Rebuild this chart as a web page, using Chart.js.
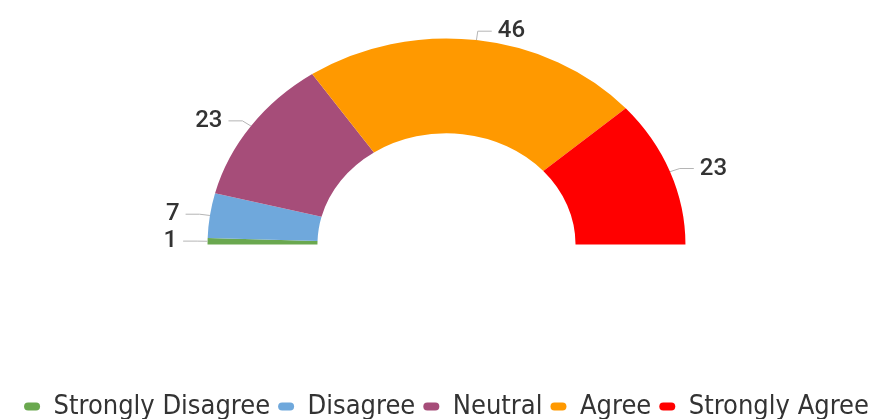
<!DOCTYPE html>
<html>
<head>
<meta charset="utf-8">
<script src="https://cdn.jsdelivr.net/npm/chart.js@4"></script>
<style>
  html, body { margin: 0; padding: 0; background: #fff; overflow: hidden; }
  #wrap { width: 884px; height: 430px; }
</style>
</head>
<body>
<div id="wrap"><canvas id="surveyChart"></canvas></div>
<script>
const answers = ['Strongly Disagree', 'Disagree', 'Neutral', 'Agree', 'Strongly Agree'];
const responses = [1, 7, 23, 46, 23];
const sliceColors = ['#6aa84f', '#6fa8dc', '#a64d79', '#ff9900', '#ff0000'];

// the half ring is drawn a bit wider than it is tall
const stretchX = 1.16;

function ringPoint(arc, angle, r) {
  return { x: arc.x + Math.cos(angle) * r * stretchX, y: arc.y + Math.sin(angle) * r };
}

const halfRing = {
  id: 'halfRing',
  beforeDatasetsDraw(chart) {
    const arc = chart.getDatasetMeta(0).data[0];
    const ctx = chart.ctx;
    ctx.save();
    ctx.translate(arc.x, arc.y);
    ctx.scale(stretchX, 1);
    ctx.translate(-arc.x, -arc.y);
  },
  afterDatasetsDraw(chart) {
    const ctx = chart.ctx;
    ctx.restore();

    // value labels with small elbow leaders
    ctx.save();
    ctx.strokeStyle = '#b5b5b5';
    ctx.lineWidth = 1;
    ctx.fillStyle = '#333333';
    ctx.font = '500 24px Roboto';
    ctx.textBaseline = 'middle';
    chart.getDatasetMeta(0).data.forEach((arc, i) => {
      const mid = (arc.startAngle + arc.endAngle) / 2;
      const dir = Math.cos(mid) >= 0 ? 1 : -1;
      const p1 = ringPoint(arc, mid, arc.outerRadius);
      const p2 = ringPoint(arc, mid, arc.outerRadius + 9);
      const p3 = { x: p2.x + dir * 14, y: p2.y };
      ctx.beginPath();
      ctx.moveTo(p1.x, p1.y);
      ctx.lineTo(p2.x, p2.y);
      ctx.lineTo(p3.x, p3.y);
      ctx.stroke();
      ctx.textAlign = dir > 0 ? 'left' : 'right';
      ctx.fillText(String(responses[i]), p3.x + dir * 6, p3.y);
    });
    ctx.restore();
  }
};

new Chart(document.getElementById('surveyChart'), {
  type: 'doughnut',
  data: {
    labels: answers,
    datasets: [{
      data: responses,
      backgroundColor: sliceColors,
      borderWidth: 0
    }]
  },
  options: {
    responsive: true,
    maintainAspectRatio: false,
    animation: false,
    rotation: -90,
    circumference: 180,
    cutout: '54%',
    radius: 206,
    layout: { padding: { left: 9, right: 0, top: 0, bottom: 0 } },
    plugins: {
      tooltip: { enabled: false },
      legend: {
        position: 'bottom',
        // empty title keeps a gap between the ring and the legend row
        title: { display: true, text: '', font: { size: 10 }, padding: { top: 0, bottom: 90 } },
        labels: {
          boxWidth: 16,
          boxHeight: 8,
          useBorderRadius: true,
          borderRadius: 4,
          padding: 8,
          color: '#333333',
          font: { family: "'Liberation Sans Narrow', 'DejaVu Sans Condensed', 'Liberation Sans', sans-serif", size: 27 }
        }
      }
    }
  },
  plugins: [halfRing]
});
</script>
</body>
</html>
